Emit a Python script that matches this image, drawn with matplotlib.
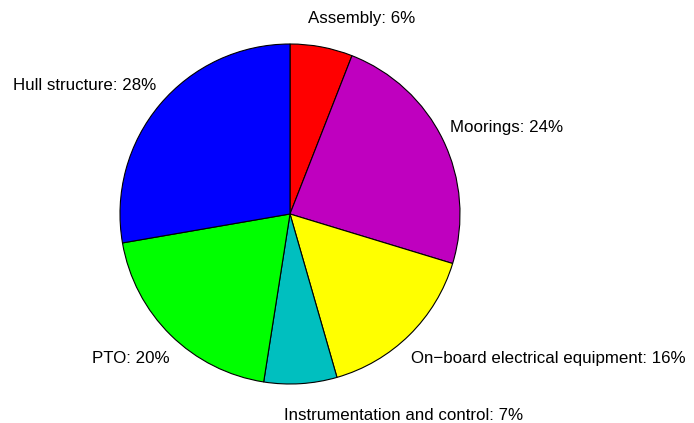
import numpy as np
from matplotlib import pyplot as plt

plt.rcParams['font.family'] = ['Liberation Sans', 'DejaVu Sans']

# cost breakdown, in percent
components = ['Assembly', 'Moorings', 'On\u2212board electrical equipment',
              'Instrumentation and control', 'PTO', 'Hull structure']
shares = [6, 24, 16, 7, 20, 28]
slice_colors = ['#ff0000', '#bf00bf', '#ffff00', '#00bfbf', '#00ff00', '#0000ff']

W, H, R = 694, 423, 170  # figure size and pie radius, pixels
cx, cy = 290, 214        # pie centre, pixels from top-left

fig = plt.figure(figsize=(W / 100, H / 100), dpi=100)
ax = fig.add_axes([0, 0, 1, 1])

wedges, _ = ax.pie(shares, colors=slice_colors, startangle=90, counterclock=False,
                   wedgeprops=dict(edgecolor='black', linewidth=0.8))

for w, name, pct in zip(wedges, components, shares):
    mid = np.deg2rad((w.theta1 + w.theta2) / 2)
    x, y = 1.17 * np.cos(mid), 1.17 * np.sin(mid)
    if y < 0:
        y -= 0.015  # labels below the pie sit a little lower
    if x >= 0:
        ax.text(x - 0.11, y, f'{name}: {pct}%', ha='left', va='center', fontsize=12.2)
    else:
        ax.text(x + 0.11, y, f'{name}: {pct}%', ha='right', va='center', fontsize=12.2)

ax.set_aspect('auto')
ax.set_xlim(-cx / R, (W - cx) / R)
ax.set_ylim(-(H - cy) / R, cy / R)
ax.axis('off')

fig.savefig('out.png', dpi=100)
